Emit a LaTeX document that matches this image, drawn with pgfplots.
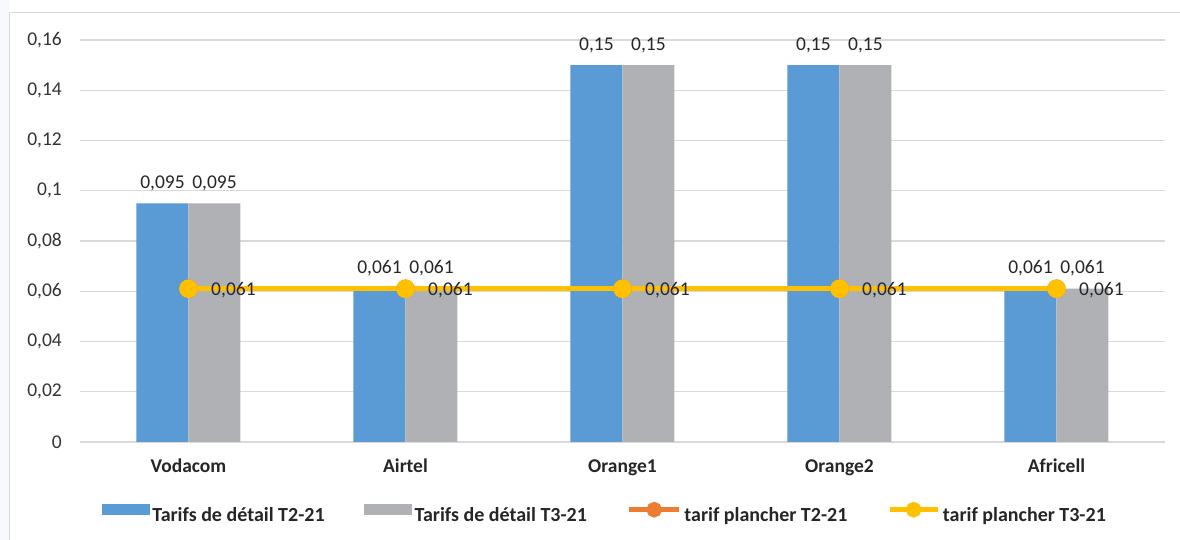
\documentclass[border=0pt]{standalone}
\usepackage{fontspec}
\setmainfont{Carlito}
\usepackage{pgfplots}
\pgfplotsset{compat=1.18}
\definecolor{cblue}{HTML}{5B9BD5}
\definecolor{cgray}{HTML}{B0B1B4}
\definecolor{corange}{HTML}{ED7D31}
\definecolor{cyellow}{HTML}{FFC000}
\definecolor{cgrid}{HTML}{D9D9D9}
\definecolor{ctext}{HTML}{262626}
\definecolor{cticks}{HTML}{333333}
\definecolor{cside}{HTML}{F7F9FC}
\newcommand{\lbl}{\fontsize{19.5}{23}\selectfont}
\begin{document}
\begin{tikzpicture}[x=1pt,y=1pt]
\useasboundingbox (0,0) rectangle (1180,540);
\fill[white] (0,0) rectangle (1180,540);
\fill[cside] (0,0) rectangle (9,540);
\draw[cgrid, line width=1.3pt] (9.5,0) -- (9.5,527.5) -- (1180,527.5);
\begin{axis}[
  at={(80pt,98pt)}, anchor=south west,
  scale only axis, width=1085pt, height=402pt,
  xmin=-0.5, xmax=4.5, ymin=0, ymax=0.16,
  ytick={0,0.02,0.04,0.06,0.08,0.1,0.12,0.14,0.16},
  xtick={0,1,2,3,4},
  xticklabels={Vodacom,Airtel,Orange1,Orange2,Africell},
  axis line style={draw=none},
  major tick length=0pt,
  ymajorgrids, grid style={cgrid, line width=1.3pt},
  clip=false,
  yticklabel style={font=\lbl, text=cticks, inner sep=0pt, anchor=east, xshift=-18pt,
    /pgf/number format/.cd, use comma, fixed, precision=2, assume math mode=true},
  xticklabel style={font=\bfseries\lbl, text=ctext, inner sep=0pt, anchor=base, yshift=-31pt},
  legend columns=4,
  legend style={at={(0.484,-0.179)}, anchor=center, draw=none, fill=none,
    font=\bfseries\fontsize{20}{24}\selectfont, text=ctext, inner sep=0pt, column sep=0pt,
    nodes={inner sep=2.5pt},
    /tikz/every even column/.append style={column sep=37pt}},
]
\addplot[ybar, fill=cblue, draw=none, bar width=52pt, bar shift=-26pt,
  nodes near coords={\pgfmathprintnumber[use comma, fixed, precision=3, assume math mode=true]{\pgfplotspointmeta}},
  every node near coord/.append style={font=\lbl, text=ctext, anchor=base, inner sep=0pt, xshift=-26pt, yshift=15pt},
  legend image code/.code={\fill[cblue] (0pt,0.5pt) rectangle (48pt,11.5pt);}]
  coordinates {(0,0.095) (1,0.061) (2,0.15) (3,0.15) (4,0.061)};
\addlegendentry{Tarifs de détail T2-21}
\addplot[ybar, fill=cgray, draw=none, bar width=52pt, bar shift=26pt,
  nodes near coords={\pgfmathprintnumber[use comma, fixed, precision=3, assume math mode=true]{\pgfplotspointmeta}},
  every node near coord/.append style={font=\lbl, text=ctext, anchor=base, inner sep=0pt, xshift=26pt, yshift=15pt},
  legend image code/.code={\fill[cgray] (0pt,0.5pt) rectangle (48pt,11.5pt);}]
  coordinates {(0,0.095) (1,0.061) (2,0.15) (3,0.15) (4,0.061)};
\addlegendentry{Tarifs de détail T3-21}
\addplot[corange, line width=5.5pt, mark=*, mark size=6.5pt, mark options={fill=corange, draw=none},
  legend image code/.code={\draw[corange, line width=5.5pt] (0pt,6pt) -- (50pt,6pt); \fill[corange] (25pt,6pt) circle (5pt);}]
  coordinates {(0,0.061) (1,0.061) (2,0.061) (3,0.061) (4,0.061)};
\addlegendentry{tarif plancher T2-21}
\addplot[cyellow, line width=5.5pt, mark=*, mark size=6.5pt, mark options={fill=cyellow, draw=none},
  nodes near coords={\pgfmathprintnumber[use comma, fixed, precision=3, assume math mode=true]{\pgfplotspointmeta}},
  every node near coord/.append style={font=\lbl, text=ctext, anchor=base west, inner sep=0pt, xshift=20pt, yshift=-7pt},
  legend image code/.code={\draw[cyellow, line width=5.5pt] (0pt,6pt) -- (48pt,6pt); \fill[cyellow] (24pt,6pt) circle (5pt);}]
  coordinates {(0,0.061) (1,0.061) (2,0.061) (3,0.061) (4,0.061)};
\addlegendentry{tarif plancher T3-21}
\end{axis}
\end{tikzpicture}
\end{document}
